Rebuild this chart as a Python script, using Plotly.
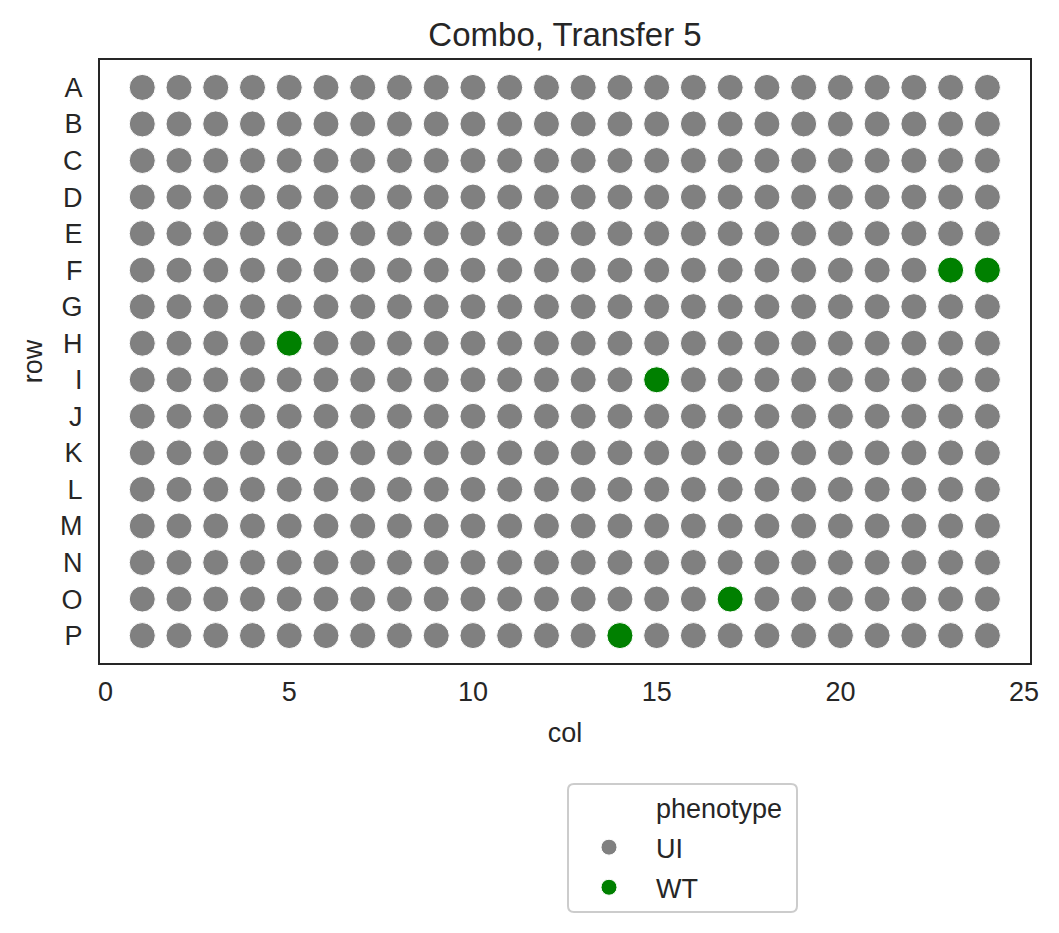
import plotly.graph_objects as go

# ---- data ----
rows = list("ABCDEFGHIJKLMNOP")
cols = list(range(1, 25))
wt_rows = ["F", "F", "H", "I", "O", "P"]
wt_cols = [23, 24, 5, 15, 17, 14]
phenotypes = ["UI", "WT"]
colors = {"UI": "#808080", "WT": "#008000"}
title_text = "Combo, Transfer 5"
x_ticks = [0, 5, 10, 15, 20, 25]

wt_set = set(zip(wt_rows, wt_cols))
ui_rows, ui_cols = [], []
for r in rows:
    for c in cols:
        if (r, c) not in wt_set:
            ui_rows.append(r)
            ui_cols.append(c)

FONT = "Liberation Sans, Arial, sans-serif"
TXT = "#262626"

fig = go.Figure()
# legend title entry (seaborn-style, as invisible handle)
fig.add_trace(go.Scatter(x=[None], y=[None], mode="markers", name="phenotype",
                         legendgroup="t",
                         marker=dict(color="rgba(0,0,0,0)", size=1), hoverinfo="skip"))
fig.add_trace(go.Scatter(x=ui_cols, y=ui_rows, mode="markers", name="UI",
                         legendgroup="ui",
                         marker=dict(color=colors["UI"], size=26,
                                     line=dict(color="white", width=1))))
fig.add_trace(go.Scatter(x=wt_cols, y=wt_rows, mode="markers", name="WT",
                         legendgroup="wt",
                         marker=dict(color=colors["WT"], size=26,
                                     line=dict(color="white", width=1))))

W, H = 1059, 933
L, R, T, B = 100, 1030, 60, 663
pw, ph = R - L, B - T

def px2paper(x, y):
    return (x - L) / pw, (B - y) / ph

# rounded legend frame
x0, y0, x1, y1 = 568, 784, 797, 912
rad = 6
def P(x, y):
    a, b = px2paper(x, y)
    return f"{a:.5f},{b:.5f}"
path = (f"M {P(x0+rad,y0)} L {P(x1-rad,y0)} Q {P(x1,y0)} {P(x1,y0+rad)} "
        f"L {P(x1,y1-rad)} Q {P(x1,y1)} {P(x1-rad,y1)} "
        f"L {P(x0+rad,y1)} Q {P(x0,y1)} {P(x0,y1-rad)} "
        f"L {P(x0,y0+rad)} Q {P(x0,y0)} {P(x0+rad,y0)} Z")
fig.add_shape(type="path", path=path, xref="paper", yref="paper",
              line=dict(color="#cccccc", width=2), fillcolor="rgba(255,255,255,0.8)",
              layer="below")

lx, ly = px2paper(562, 783)
fig.update_layout(
    width=W, height=H,
    margin=dict(l=L, r=W - R, t=T, b=H - B, pad=0),
    paper_bgcolor="white", plot_bgcolor="white",
    font=dict(family=FONT, color=TXT, size=27),
    title=dict(text=title_text, x=(L + R) / 2 / W, xanchor="center",
               y=1 - 34 / H, yanchor="middle", yref="container",
               font=dict(size=33, color=TXT)),
    xaxis=dict(range=[-0.15, 25.16], tickvals=x_ticks, ticks="", showgrid=False,
               zeroline=False, showline=True, linecolor=TXT, linewidth=2, mirror=True,
               ticklabelstandoff=4,
               title=dict(text="col", standoff=17, font=dict(size=27))),
    yaxis=dict(type="category", categoryorder="array", categoryarray=rows,
               range=[15.75, -0.75], ticks="", showgrid=False, zeroline=False,
               showline=True, linecolor=TXT, linewidth=2, mirror=True,
               ticklabelstandoff=10,
               title=dict(text="row", standoff=10, font=dict(size=27))),
    showlegend=True,
    legend=dict(x=lx, y=ly, xanchor="left", yanchor="top",
                bgcolor="rgba(0,0,0,0)", borderwidth=0,
                font=dict(size=27, color=TXT), itemwidth=84,
                traceorder="grouped", tracegroupgap=2,
                itemclick=False, itemdoubleclick=False),
)

fig.write_html("out.html")
